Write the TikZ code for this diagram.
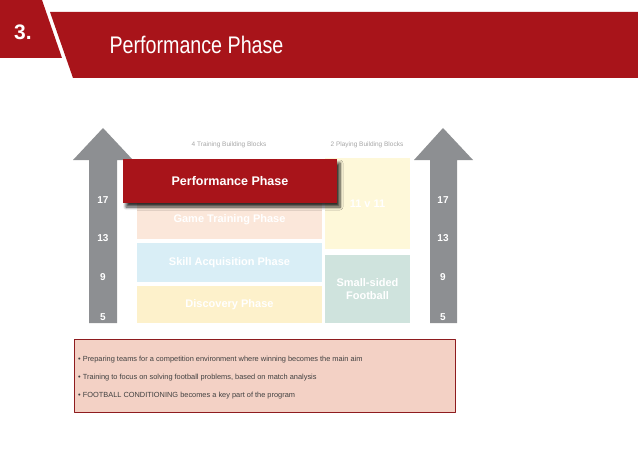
\documentclass[tikz,border=0pt]{standalone}
\usepackage{fontspec}
\setmainfont{Liberation Sans}
\newfontfamily\narrowfont[FakeStretch=0.82]{Liberation Sans}
\usetikzlibrary{shadows,shadows.blur}

\definecolor{phasered}{HTML}{A8141A}
\definecolor{arrowgray}{HTML}{8D8F92}
\definecolor{gamepeach}{HTML}{FBE7DA}
\definecolor{skillblue}{HTML}{D9EEF6}
\definecolor{discyellow}{HTML}{FDF1CB}
\definecolor{elevenyellow}{HTML}{FEF8D9}
\definecolor{smallgreen}{HTML}{CFE3DD}
\definecolor{notepink}{HTML}{F3D1C5}
\definecolor{noteborder}{HTML}{8E1C1F}

\begin{document}
\begin{tikzpicture}[x=1pt,y=-1pt,line join=round,
  block/.style={inner sep=0pt,align=center,text=white,
    font=\bfseries\fontsize{11}{13}\selectfont},
  agelabel/.style={text=white,font=\bfseries\fontsize{10}{11}\selectfont},
  colhead/.style={text=black!35,font=\fontsize{6.5}{7}\selectfont},
  bullet/.style={anchor=west,inner sep=0pt,text=black!75,
    font=\fontsize{7.4}{8}\selectfont}]
  \useasboundingbox (0,0) rectangle (638,452);

  % header
  \fill[phasered] (0,0) -- (42,0) -- (62,58) -- (0,58) -- cycle;
  \fill[phasered] (50,12) -- (638,12) -- (638,78) -- (73,78) -- cycle;
  \node[text=white,font=\bfseries\fontsize{21}{23}\selectfont] (num) at (23,32) {3.};
  \node[text=white,font=\narrowfont\fontsize{24}{26}\selectfont,anchor=west] (title) at (106,45) {Performance Phase};

  % age arrows
  \fill[arrowgray] (89,323) -- (89,160) -- (73,160) -- (103,128) -- (133,160) -- (117,160) -- (117,323) -- cycle;
  \fill[arrowgray] (430,323) -- (430,160) -- (414,160) -- (443,128) -- (473,160) -- (457,160) -- (457,323) -- cycle;
  \node[agelabel] (l17) at (103,200) {17};
  \node[agelabel] (l13) at (103,238) {13};
  \node[agelabel] (l9) at (103,277) {9};
  \node[agelabel] (l5) at (103,317) {5};
  \node[agelabel] (r17) at (443,200) {17};
  \node[agelabel] (r13) at (443,238) {13};
  \node[agelabel] (r9) at (443,277) {9};
  \node[agelabel] (r5) at (443,317) {5};

  % column heads
  \node[colhead] (trainhead) at (229,145) {4 Training Building Blocks};
  \node[colhead] (playhead) at (367,145) {2 Playing Building Blocks};

  % training blocks
  \node[block,fill=discyellow,minimum width=185,minimum height=37] (discovery) at (229.5,304.5) {Discovery Phase};
  \node[block,fill=skillblue,minimum width=185,minimum height=39] (skill) at (229.5,262.5) {Skill Acquisition Phase};
  \node[block,fill=gamepeach,minimum width=185,minimum height=38] (game) at (229.5,220) {Game Training Phase};

  % playing blocks
  \node[block,fill=elevenyellow,minimum width=85,minimum height=91] (eleven) at (367.5,203.5) {11 v 11};
  \node[block,fill=smallgreen,minimum width=85,minimum height=68] (smallsided) at (367.5,289) {Small-sided\\Football};

  % current phase
  \node[block,fill=phasered,minimum width=214,minimum height=44,
    font=\bfseries\fontsize{12.5}{14}\selectfont,
    blur shadow={shadow xshift=3pt,shadow yshift=-4pt,shadow blur steps=6,shadow blur radius=3pt,shadow opacity=80}] (perf) at (230,181) {Performance Phase};

  % notes
  \node[draw=noteborder,fill=notepink,line width=0.6pt,minimum width=381,minimum height=73,inner sep=0pt] (notes) at (264.5,375.5) {};
  \node[bullet] (b1) at (78,360) {\textbullet\ Preparing teams for a competition environment where winning becomes the main aim};
  \node[bullet] (b2) at (78,378) {\textbullet\ Training to focus on solving football problems, based on match analysis};
  \node[bullet] (b3) at (78,396) {\textbullet\ FOOTBALL CONDITIONING becomes a key part of the program};
\end{tikzpicture}
\end{document}
